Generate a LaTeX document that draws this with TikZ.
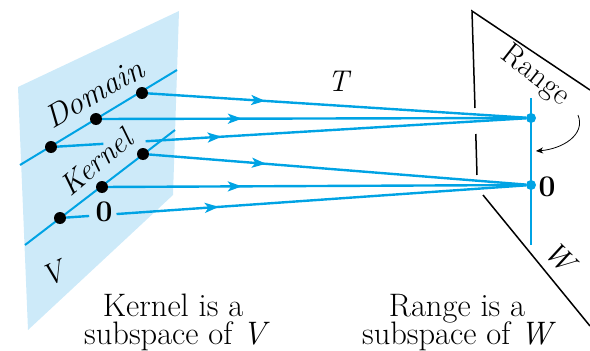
\documentclass[tikz,border=0pt]{standalone}
\usetikzlibrary{decorations.markings,arrows.meta,calc}
\definecolor{tblue}{RGB}{0,163,228}
\definecolor{tplane}{RGB}{205,234,249}
\tikzset{
  mapline/.style={draw=tblue, line width=2.4pt},
  midarrow/.style={postaction={decorate},decoration={markings,mark=at position #1 with {\arrow{Stealth[length=14pt,width=10pt,inset=3.5pt]}}}},
  bdot/.style={circle,fill=black,inner sep=0pt,minimum size=12pt},
  rdot/.style={circle,fill=tblue,inner sep=0pt,minimum size=10pt},
  planeline/.style={draw=tblue,line width=2pt},
  edgeline/.style={draw=black,line width=1.5pt},
  bigtext/.style={inner sep=0pt,font=\rmfamily\fontsize{32.5}{29}\selectfont},
  itlab/.style={inner sep=0pt,font=\rmfamily\itshape\fontsize{30}{30}\selectfont},
  uplab/.style={inner sep=0pt,font=\rmfamily\fontsize{31}{31}\selectfont},
  zerolab/.style={inner sep=0pt,font=\rmfamily\bfseries\fontsize{30}{30}\selectfont},
}
\begin{document}
\begin{tikzpicture}[x=1pt,y=-1pt]
\useasboundingbox (0,0) rectangle (590,351);
% domain plane V
\fill[tplane] (18,87) -- (179,11) -- (173,195) -- (28,330) -- cycle;
\draw[planeline] (20,165) -- (177,70);
\draw[planeline] (25,245) -- (175,130);
% codomain plane W
\coordinate (wtop) at (472,11);
\coordinate (wtr) at (590,90);
\coordinate (wa) at (475,108);
\coordinate (wb) at (475.8,134);
\coordinate (wc) at (477,175);
\coordinate (wd) at (483,195);
\coordinate (wbr) at (590,326);
\draw[edgeline] (wtr) -- (wtop) -- (wa);
\draw[edgeline] (wb) -- (wc);
\draw[edgeline] (wd) -- (wbr);
\coordinate (rtop) at (531,98);
\coordinate (rbot) at (531,245);
\draw[tblue,line width=2pt] (rtop) -- (rbot);
% dots
\node[bdot] (d1) at (142,93) {};
\node[bdot] (d2) at (96,119) {};
\node[bdot] (d3) at (51,147) {};
\node[bdot] (k1) at (143,154) {};
\node[bdot] (k2) at (102,187) {};
\node[bdot] (k3) at (60,218) {};
\node[rdot] (ra) at (531,118) {};
\node[rdot] (rz) at (531,185) {};
% mapping lines
\draw[mapline,midarrow=0.31] (d1) -- (ra);
\draw[mapline,midarrow=0.33] (d2) -- (ra);
\draw[mapline] (d3) -- ($(d3)!0.109!(ra)$);
\draw[mapline,midarrow=0.2] ($(d3)!0.197!(ra)$) -- (ra);
\draw[mapline,midarrow=0.31] (k1) -- (rz);
\draw[mapline,midarrow=0.32] (k2) -- (rz);
\draw[mapline] (k3) -- ($(k3)!0.062!(rz)$);
\draw[mapline,midarrow=0.25] ($(k3)!0.12!(rz)$) -- (rz);
% labels
\node[inner sep=0pt,rotate=30,font=\rmfamily\itshape\fontsize{32}{32}\selectfont] (ldom) at (94,93) {Domain};
\node[inner sep=0pt,rotate=40,font=\rmfamily\itshape\fontsize{30}{30}\selectfont] (lker) at (96,162) {Kernel};
\node[zerolab] (lz1) at (104,212) {0};
\node[zerolab] (lz2) at (547,187) {0};
\node[itlab,rotate=25] (lV) at (53,274) {V};
\node[itlab,rotate=-45] (lW) at (560,257) {W};
\node[itlab] (lT) at (338,81) {T};
\node[uplab,rotate=-38] (lrange) at (535,76) {Range};
\coordinate (ca) at (578,115);
\coordinate (cb) at (536,151);
\draw[black,line width=0.8pt,-{Stealth[length=7pt,width=6pt,inset=2pt]}] (ca) .. controls (586,135) and (562,149) .. (cb);
\node[bigtext,anchor=base] (t1) at (173,316) {Kernel is a};
\node[bigtext,anchor=base] (t2) at (177,344) {subspace of \textit{V}};
\node[bigtext,anchor=base] (t3) at (457,316) {Range is a};
\node[bigtext,anchor=base] (t4) at (459,344) {subspace of \textit{W}};
\end{tikzpicture}
\end{document}
